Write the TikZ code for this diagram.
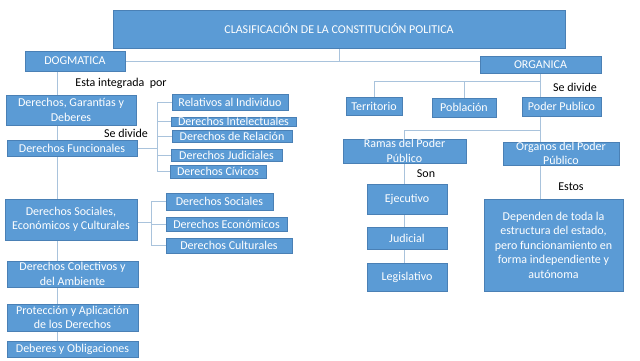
\documentclass[tikz,border=0pt]{standalone}
\usepackage{fontspec}
\setmainfont{Carlito}
\usetikzlibrary{positioning, backgrounds}

\definecolor{boxblue}{HTML}{5B9BD5}
\definecolor{boxedge}{HTML}{4A80B5}
\definecolor{linkblue}{HTML}{A9C3DC}

\begin{document}
\begin{tikzpicture}[
    x=1pt, y=-1pt,
    font=\fontsize{12}{14.5}\selectfont,
    box/.style={rectangle, draw=boxedge, fill=boxblue, text=white, align=center, inner sep=0pt},
    lbl/.style={text=black, inner sep=0pt},
    link/.style={draw=linkblue, line width=0.9pt}
]
\useasboundingbox (0,0) rectangle (640,360);

% Nodes
\node[box, minimum width=452pt, minimum height=38pt] (title) at (339,29) {CLASIFICACIÓN DE LA CONSTITUCIÓN POLITICA};
\node[box, minimum width=100pt, minimum height=20pt] (dogm) at (75,61) {DOGMATICA};
\node[box, minimum width=121pt, minimum height=17pt] (orga) at (540.5,64.5) {ORGANICA};

% Dogmatica
\node[lbl] (integ) at (121,83) {Esta integrada\ \ por};
\node[box, minimum width=130pt, minimum height=30pt] (dgar) at (71,110) {Derechos, Garantías y\\Deberes};
\node[lbl] (sediva) at (126,133) {Se divide};
\node[box, minimum width=130pt, minimum height=16pt] (dfun) at (72,148) {Derechos Funcionales};

\node[box, minimum width=116pt, minimum height=16pt] (rel) at (230,102) {Relativos al Individuo};
\node[box, minimum width=125pt, minimum height=9pt] (intl) at (233.5,121.5) {Derechos Intelectuales};
\node[box, minimum width=120pt, minimum height=12pt] (drel) at (232,136) {Derechos de Relación};
\node[box, minimum width=111pt, minimum height=12pt] (jud) at (226.5,155) {Derechos Judiciales};
\node[box, minimum width=96pt, minimum height=13pt] (civ) at (218,171.5) {Derechos Cívicos};

\node[box, minimum width=132pt, minimum height=41pt] (dsec) at (71,219.5) {Derechos Sociales,\\Económicos y Culturales};
\node[box, minimum width=107pt, minimum height=17pt] (soc) at (219.5,201.5) {Derechos Sociales};
\node[box, minimum width=121pt, minimum height=14pt] (eco) at (226.5,224) {Derechos Económicos};
\node[box, minimum width=126pt, minimum height=15pt] (cul) at (229,245.5) {Derechos Culturales};

\node[box, minimum width=131pt, minimum height=26pt] (dcol) at (72.5,274) {Derechos Colectivos y\\del Ambiente};
\node[box, minimum width=131pt, minimum height=27pt] (prot) at (72.5,317.5) {Protección y Aplicación\\de los Derechos};
\node[box, minimum width=131pt, minimum height=16pt] (debe) at (72.5,349) {Deberes y Obligaciones};

% Organica
\node[lbl] (sedivb) at (575,87) {Se divide};
\node[box, minimum width=56pt, minimum height=18pt] (terr) at (374,106) {Territorio};
\node[box, minimum width=64pt, minimum height=19pt] (pobl) at (464,107.5) {Población};
\node[box, minimum width=79pt, minimum height=19pt] (pode) at (561.5,106.5) {Poder Publico};

\node[box, minimum width=123pt, minimum height=24pt] (ramas) at (404.5,151) {Ramas del Poder\\Público};
\node[box, minimum width=116pt, minimum height=23pt] (organ) at (561,153.5) {Organos del Poder\\Público};

\node[lbl] (son) at (426,174) {Son};
\node[box, minimum width=80pt, minimum height=30pt] (ejec) at (407,199) {Ejecutivo};
\node[box, minimum width=80pt, minimum height=22pt] (judi) at (407,238) {Judicial};
\node[box, minimum width=80pt, minimum height=28pt] (legi) at (407,277) {Legislativo};

\node[lbl] (estos) at (571,187) {Estos};
\node[box, minimum width=139pt, minimum height=92pt] (depe) at (553.5,245) {Dependen de toda la\\estructura del estado,\\pero funcionamiento en\\forma\ independiente y\\autónoma};

% Connectors
\begin{scope}[on background layer]
\coordinate (spine) at (57,71);
\coordinate (busa) at (157,148);
\coordinate (busb) at (151,222);
\coordinate (orgx) at (540,73);
\coordinate (bara) at (540,81);
\coordinate (barb) at (540,130);
\coordinate (ramx) at (404,163);

\draw[link] (title.south) -- (title.south |- dogm.east);
\draw[link] (dogm.east) -- (dogm.east -| orga.west);
\draw[link] (spine) -- (spine |- debe.north);

\draw[link] (dfun.east) -- (busa);
\draw[link] (busa |- rel.west) -- (busa |- civ.west);
\foreach \n in {rel, intl, drel, jud, civ}
    \draw[link] (busa |- \n.west) -- (\n.west);

\draw[link] (dsec.east |- busb) -- (busb);
\draw[link] (busb |- soc.west) -- (busb |- cul.west);
\foreach \n in {soc, eco, cul}
    \draw[link] (busb |- \n.west) -- (\n.west);

\draw[link] (orgx) -- (orgx |- depe.north);
\draw[link] (bara) -- (bara -| terr.north) -- (terr.north);
\draw[link] (bara -| pobl.north) -- (pobl.north);
\draw[link] (barb) -- (barb -| ramx) -- (ramx |- ramas.north);
\draw[link] (ramx) -- (ramx |- legi.north);
\end{scope}

\end{tikzpicture}
\end{document}
